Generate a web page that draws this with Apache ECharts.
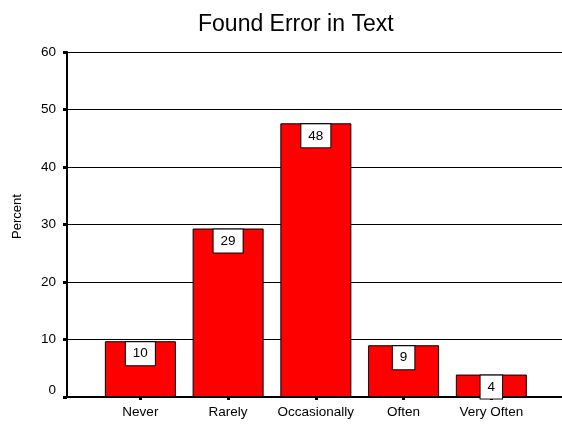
<!DOCTYPE html>
<html>
<head>
<meta charset="utf-8">
<script src="https://cdn.jsdelivr.net/npm/echarts@6/dist/echarts.min.js"></script>
<style>
  html, body { margin: 0; padding: 0; background: #fff; }
  #chart { width: 562px; height: 424px; }
</style>
</head>
<body>
<div id="chart"></div>
<script>
// Survey responses: how often an error was found in the text (percent of respondents)
const categories = ['Never', 'Rarely', 'Occasionally', 'Often', 'Very Often'];
const percentValues = [9.7, 29.3, 47.6, 9.0, 3.9];
const yTicks = { min: 0, max: 60, interval: 10 };

const FONT = '"Liberation Sans", Arial, sans-serif';
const chart = echarts.init(document.getElementById('chart'));

const plotTop = 52;
const plotBottom = 27;

chart.setOption({
  backgroundColor: '#ffffff',
  animation: false,
  textStyle: { fontFamily: FONT, color: '#000' },
  title: {
    text: 'Found Error in Text',
    left: 193,
    top: 8,
    textStyle: { fontFamily: FONT, fontSize: 23, fontWeight: 'normal', color: '#000' }
  },
  grid: [
    // frame grid: value axis, gridlines and baseline across the full width
    { left: 67, right: 0, top: plotTop, bottom: plotBottom },
    // bar grid: categories sit inset from the value axis
    { left: 96.5, right: 26.8, top: plotTop, bottom: plotBottom }
  ],
  xAxis: [
    {
      gridIndex: 0, type: 'value', min: 0, max: 1,
      axisLine: { show: true, onZero: false, lineStyle: { color: '#000', width: 2 } },
      axisTick: { show: false }, axisLabel: { show: false }, splitLine: { show: false }
    },
    {
      gridIndex: 1, type: 'category', data: categories,
      axisLine: { show: false },
      axisTick: { show: true, alignWithLabel: true, interval: 0, length: 3, lineStyle: { color: '#000', width: 3 } },
      axisLabel: { fontFamily: FONT, fontSize: 13.5, color: '#000', margin: 8, interval: 0, hideOverlap: false },
      splitLine: { show: false }
    }
  ],
  yAxis: [
    {
      gridIndex: 0, type: 'value',
      min: yTicks.min, max: yTicks.max, interval: yTicks.interval,
      name: 'Percent', nameLocation: 'middle', nameGap: 43, nameRotate: 90,
      nameTextStyle: { fontFamily: FONT, fontSize: 13, color: '#000', padding: [0, 0, 0, 16] },
      axisLine: { show: true, lineStyle: { color: '#000', width: 2 } },
      axisTick: { show: true, length: 4, lineStyle: { color: '#000', width: 3 } },
      axisLabel: {
        fontFamily: FONT, fontSize: 13.5, color: '#000', margin: 11,
        formatter: v => (v === 0 ? '{z|0}' : String(v)),
        rich: { z: { fontFamily: FONT, fontSize: 13.5, color: '#000', padding: [0, 0, 14, 0] } }
      },
      splitLine: { show: true, lineStyle: { color: '#000', width: 1 } }
    },
    {
      gridIndex: 1, type: 'value',
      min: yTicks.min, max: yTicks.max, interval: yTicks.interval,
      show: false, splitLine: { show: false }
    }
  ],
  series: [
    {
      type: 'bar',
      xAxisIndex: 1, yAxisIndex: 1,
      data: percentValues,
      barWidth: 71,
      itemStyle: { color: '#ff0000', borderColor: '#000', borderWidth: 1 },
      label: {
        show: true,
        position: 'insideTop',
        distance: 1,
        formatter: p => String(Math.round(p.value)),
        fontFamily: FONT, fontSize: 13.5, color: '#000',
        backgroundColor: '#fff', borderColor: '#000', borderWidth: 1,
        padding: [4, 7], lineHeight: 15
      }
    }
  ]
});
</script>
</body>
</html>
